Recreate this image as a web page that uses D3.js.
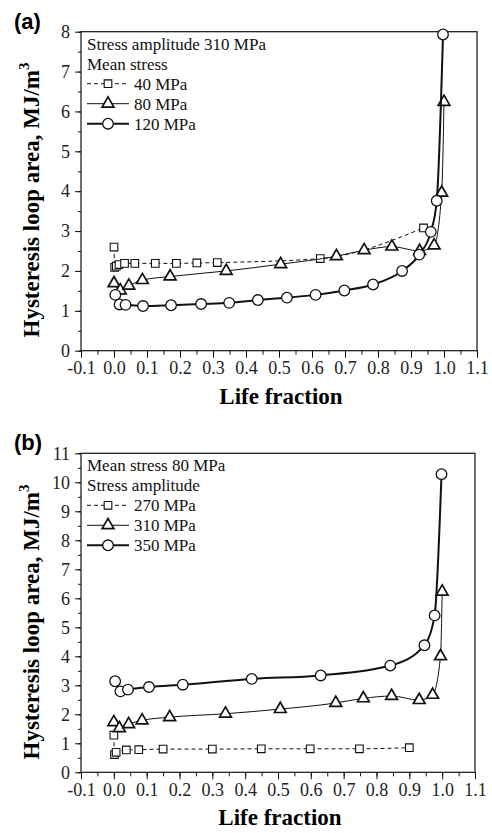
<!DOCTYPE html>
<html>
<head>
<meta charset="utf-8">
<script src="https://cdn.jsdelivr.net/npm/d3@7"></script>
<style>
  body { margin: 0; background: #fff; }
  svg { display: block; }
  .tick text { font-family: "Liberation Serif", "Times New Roman", serif; font-size: 18px; fill: #222; }
  .axis path, .axis line { stroke: #111; }
  .legend text { font-family: "Liberation Serif", "Times New Roman", serif; font-size: 17px; fill: #111; }
</style>
</head>
<body>
<svg class="chart-frame"></svg>
<script>
// panel (a): stress amplitude 310 MPa, varying mean stress
const lifeA40 = [0.000, 0.002, 0.007, 0.015, 0.032, 0.063, 0.125, 0.189, 0.251, 0.313, 0.625, 0.938];
const areaA40 = [2.60, 2.09, 2.12, 2.16, 2.19, 2.19, 2.19, 2.19, 2.20, 2.21, 2.31, 3.08];
const lifeA80 = [0.000, 0.019, 0.045, 0.086, 0.170, 0.340, 0.505, 0.674, 0.758, 0.842, 0.926, 0.970, 0.993, 1.000];
const areaA80 = [1.69, 1.51, 1.63, 1.77, 1.86, 2.00, 2.17, 2.37, 2.52, 2.61, 2.50, 2.64, 3.96, 6.24];
const lifeA120 = [0.004, 0.017, 0.035, 0.088, 0.173, 0.264, 0.349, 0.436, 0.524, 0.611, 0.698, 0.785, 0.873, 0.925, 0.960, 0.978, 0.997];
const areaA120 = [1.40, 1.16, 1.15, 1.12, 1.14, 1.17, 1.20, 1.27, 1.33, 1.40, 1.51, 1.66, 2.00, 2.41, 2.98, 3.76, 7.93];

// panel (b): mean stress 80 MPa, varying stress amplitude
const lifeB270 = [0.000, 0.002, 0.007, 0.038, 0.076, 0.150, 0.300, 0.449, 0.598, 0.748, 0.900];
const areaB270 = [1.28, 0.61, 0.69, 0.77, 0.78, 0.80, 0.80, 0.81, 0.81, 0.81, 0.85];
const lifeB310 = [0.000, 0.017, 0.045, 0.086, 0.170, 0.340, 0.507, 0.676, 0.760, 0.846, 0.930, 0.971, 0.995, 1.000];
const areaB310 = [1.73, 1.52, 1.66, 1.79, 1.90, 2.02, 2.18, 2.39, 2.55, 2.63, 2.49, 2.67, 4.00, 6.23];
const lifeB350 = [0.004, 0.020, 0.043, 0.107, 0.210, 0.420, 0.630, 0.842, 0.946, 0.977, 0.998];
const areaB350 = [3.14, 2.79, 2.85, 2.94, 3.02, 3.22, 3.34, 3.68, 4.38, 5.41, 10.28];

const xTicks = [-0.1, 0.0, 0.1, 0.2, 0.3, 0.4, 0.5, 0.6, 0.7, 0.8, 0.9, 1.0, 1.1];
const yTicksA = [0, 1, 2, 3, 4, 5, 6, 7, 8];
const yTicksB = [0, 1, 2, 3, 4, 5, 6, 7, 8, 9, 10, 11];

const legendA = ["Stress amplitude 310 MPa", "Mean stress", "40 MPa", "80 MPa", "120 MPa"];
const legendB = ["Mean stress 80 MPa", "Stress amplitude", "270 MPa", "310 MPa", "350 MPa"];

const svg = d3.select(".chart-frame")
  .attr("width", 492)
  .attr("height", 833);

// line / marker look for the three series of each panel
const styles = [
  {symbol: d3.symbolSquare, size: 58, width: 1, dash: "4,3", mstroke: 1.1},
  {symbol: d3.symbolTriangle, size: 60, width: 1, dash: null, mstroke: 1.7},
  {symbol: d3.symbolCircle, size: 88, width: 2, dash: null, mstroke: 1.3}
];

function drawPanel(opts) {
  const xScale = d3.scaleLinear().domain([-0.1, 1.1]).range([opts.left, opts.right]);
  const yScale = d3.scaleLinear().domain([0, opts.yMax]).range([opts.bottom, opts.top]);
  const g = svg.append("g");

  // frame
  g.append("rect")
    .attr("x", opts.left).attr("y", opts.top)
    .attr("width", opts.right - opts.left).attr("height", opts.bottom - opts.top)
    .attr("fill", "none").attr("stroke", "#111").attr("stroke-width", 1.2);

  // minor ticks
  g.append("g").attr("class", "axis")
    .attr("transform", "translate(0," + opts.bottom + ")")
    .call(d3.axisBottom(xScale).tickValues(d3.range(-0.1, 1.101, 0.05)).tickSize(4).tickSizeOuter(0).tickFormat(""))
    .call(a => a.select(".domain").remove());
  g.append("g").attr("class", "axis")
    .attr("transform", "translate(" + opts.left + ",0)")
    .call(d3.axisLeft(yScale).tickValues(d3.range(0, opts.yMax + 0.01, 0.5)).tickSize(3).tickSizeOuter(0).tickFormat(""))
    .call(a => a.select(".domain").remove());

  // major ticks
  g.append("g").attr("class", "axis")
    .attr("transform", "translate(0," + opts.bottom + ")")
    .call(d3.axisBottom(xScale).tickValues(xTicks).tickSize(7).tickPadding(4).tickSizeOuter(0).tickFormat(d3.format(".1f")))
    .call(a => a.select(".domain").remove())
    .selectAll("text").text(d => d3.format(".1f")(d).replace("−", "-"));
  g.append("g").attr("class", "axis")
    .attr("transform", "translate(" + opts.left + ",0)")
    .call(d3.axisLeft(yScale).tickValues(opts.yTicks).tickSize(6).tickPadding(5).tickSizeOuter(0))
    .call(a => a.select(".domain").remove());

  // series
  opts.series.forEach((s, i) => {
    const pts = s.life.map((v, k) => [v, s.area[k]]);
    const st = styles[i];
    g.append("path")
      .datum(pts)
      .attr("fill", "none")
      .attr("stroke", "#111")
      .attr("stroke-width", st.width)
      .attr("stroke-dasharray", st.dash)
      .attr("d", d3.line().x(d => xScale(d[0])).y(d => yScale(d[1])).curve(d3.curveMonotoneX));
    g.selectAll(".m" + i)
      .data(pts)
      .enter().append("path")
      .attr("class", "m" + i)
      .attr("transform", d => "translate(" + xScale(d[0]) + "," + yScale(d[1]) + ")")
      .attr("d", d3.symbol().type(st.symbol).size(st.size))
      .attr("fill", "#fff")
      .attr("stroke", "#111")
      .attr("stroke-width", st.mstroke);
  });

  // legend
  const leg = g.append("g").attr("class", "legend");
  opts.legend.forEach((t, i) => {
    const y = opts.top + 12 + i * 20;
    if (i < 2) {
      leg.append("text").attr("x", opts.left + 6).attr("y", y + 6).text(t);
      return;
    }
    const st = styles[i - 2];
    leg.append("line")
      .attr("x1", opts.left + 6).attr("x2", opts.left + 48)
      .attr("y1", y).attr("y2", y)
      .attr("stroke", "#111").attr("stroke-width", st.width)
      .attr("stroke-dasharray", st.dash);
    leg.append("path")
      .attr("transform", "translate(" + (opts.left + 27) + "," + y + ")")
      .attr("d", d3.symbol().type(st.symbol).size(st.size))
      .attr("fill", "#fff").attr("stroke", "#111").attr("stroke-width", st.mstroke);
    leg.append("text").attr("x", opts.left + 53).attr("y", y + 6).text(t);
  });

  // axis titles
  g.append("text")
    .attr("x", (xScale(0) + xScale(1)) / 2 + 2)
    .attr("y", opts.bottom + 53)
    .attr("text-anchor", "middle")
    .style("font-family", "'Liberation Serif', 'Times New Roman', serif")
    .style("font-weight", "bold").style("font-size", "23px")
    .text("Life fraction");

  const yl = g.append("text")
    .attr("transform", "translate(39," + opts.yLabelMid + ") rotate(-90)")
    .attr("text-anchor", "middle")
    .style("font-family", "'Liberation Serif', 'Times New Roman', serif")
    .style("font-weight", "bold").style("font-size", "23px");
  yl.append("tspan").text("Hysteresis loop area, MJ/m");
  yl.append("tspan").attr("dy", -10).style("font-size", "15px").text("3");

  g.append("text")
    .attr("x", 14).attr("y", opts.top - 3)
    .style("font-family", "'Liberation Sans', Arial, sans-serif")
    .style("font-weight", "bold").style("font-size", "22px")
    .text(opts.tag);
}

drawPanel({
  tag: "(a)", left: 81, right: 477, top: 31.7, bottom: 350.7, yMax: 8, yTicks: yTicksA,
  yLabelMid: 200, legend: legendA,
  series: [
    {life: lifeA40, area: areaA40},
    {life: lifeA80, area: areaA80},
    {life: lifeA120, area: areaA120}
  ]
});

drawPanel({
  tag: "(b)", left: 81, right: 475, top: 453.3, bottom: 772.3, yMax: 11, yTicks: yTicksB,
  yLabelMid: 622, legend: legendB,
  series: [
    {life: lifeB270, area: areaB270},
    {life: lifeB310, area: areaB310},
    {life: lifeB350, area: areaB350}
  ]
});
</script>
</body>
</html>
